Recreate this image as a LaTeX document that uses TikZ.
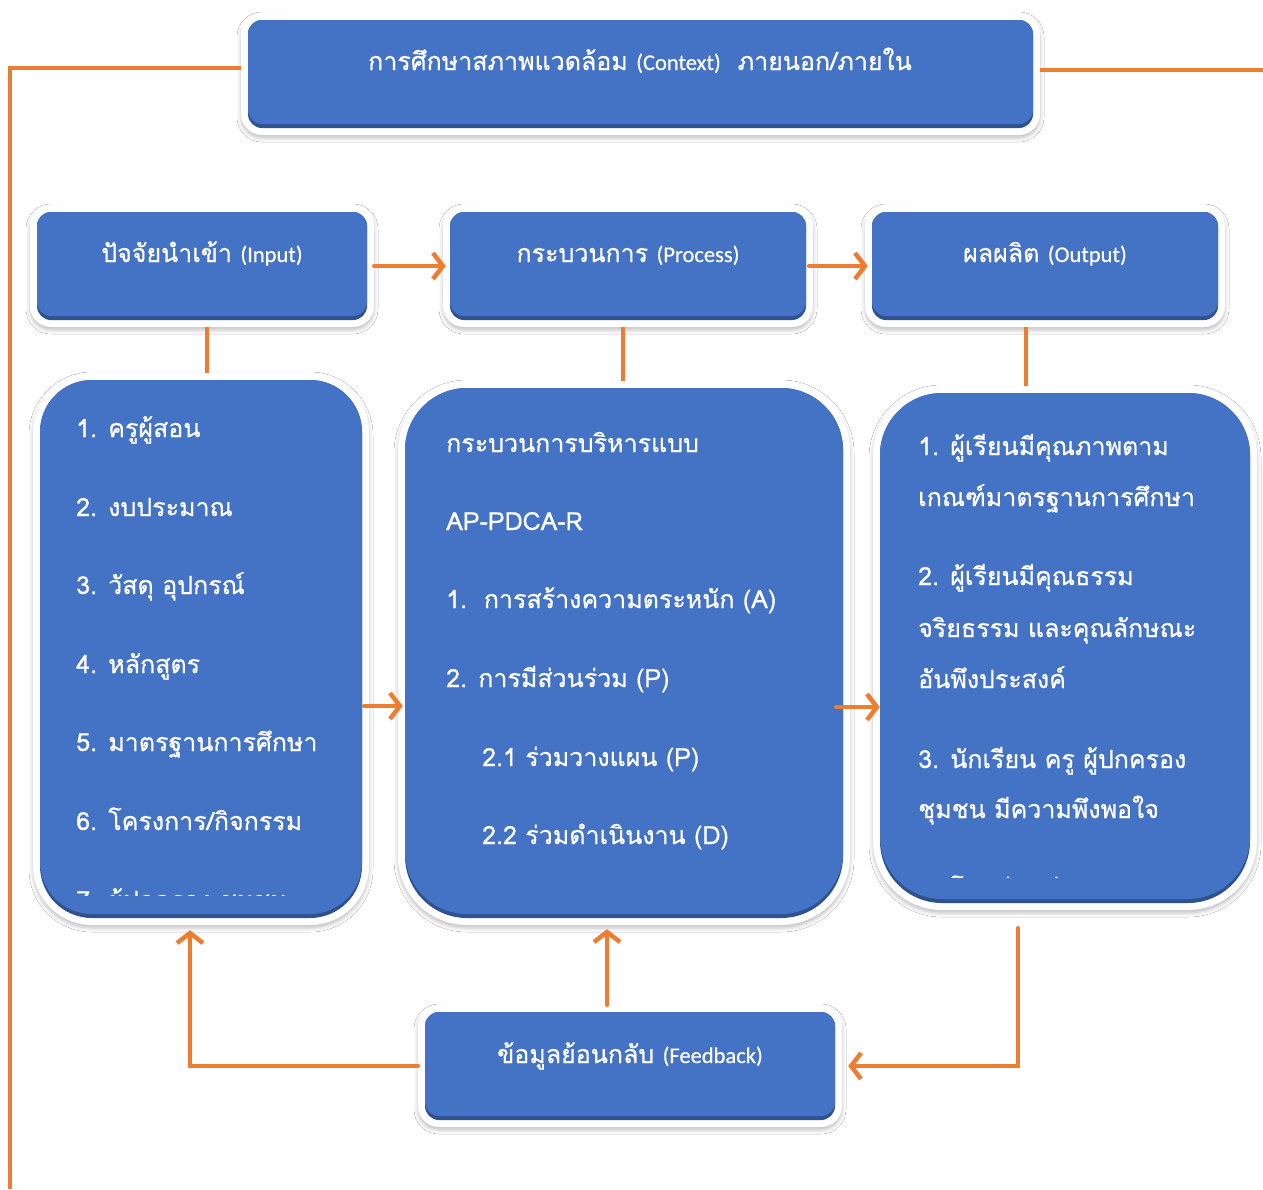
\documentclass[tikz,border=0pt]{standalone}
\usepackage{fontspec}
\newfontfamily\thai[Script=Thai,FakeBold=0.6]{Loma}
\newfontfamily\lat[FakeBold=0.4]{Carlito}
\usetikzlibrary{arrows.meta,shadows.blur,calc}
\definecolor{boxblue}{HTML}{4472C4}
\definecolor{rimblue}{HTML}{2F528F}
\definecolor{conn}{HTML}{ED7D31}
\tikzset{
  frame/.style={fill=white, draw=none, rounded corners=#1, inner sep=0pt,
    blur shadow={shadow xshift=0pt, shadow yshift=-3pt, shadow blur radius=4pt, shadow opacity=25}},
  rim/.style={fill=rimblue, draw=none, rounded corners=#1, inner sep=0pt},
  blue/.style={fill=boxblue, draw=none, rounded corners=#1, inner sep=0pt},
  txt/.style={text=white, font=\thai\fontsize{25}{29}\selectfont, inner sep=0pt, anchor=base west},
  hdr/.style={text=white, font=\thai\fontsize{25}{29}\selectfont, inner sep=0pt, anchor=base},
  ln/.style={draw=conn, line width=4.5pt},
  arr/.style={draw=conn, line width=4.5pt, -{Straight Barb[length=10pt,width=26pt]}, line cap=round},
}
\newcommand\mkbox[6]{%
  \node[frame=#6pt+7pt, minimum width=#4pt+14pt, minimum height=#5pt+14pt] (#1) at (#2,#3) {};
  \node[rim=#6pt, minimum width=#4pt, minimum height=#5pt] (#1-rim) at (#2,#3) {};
  \node[blue=#6pt, minimum width=#4pt, minimum height=#5pt-4pt] (#1-in) at (#2,#3-2) {};
}
\newcommand\hl[1]{{\lat\fontsize{22.5}{26}\selectfont #1}}
\begin{document}
\begin{tikzpicture}[x=1pt,y=-1pt]
\fill[white] (0,0) rectangle (1263,1189);
\useasboundingbox (0,0) rectangle (1263,1189);
\coordinate (lft) at (10,1189);
\coordinate (rgt) at (1263,70);

\mkbox{ctx}{640.5}{74}{785}{108}{14}
\mkbox{inp}{202}{266}{330}{108}{14}
\mkbox{proc}{628}{266}{356}{108}{14}
\mkbox{outp}{1045}{266}{346}{108}{14}
\mkbox{la}{201}{649}{322}{538}{52}
\mkbox{lb}{624}{653}{438}{530}{62}
\mkbox{lc}{1065}{648}{370}{510}{62}
\mkbox{fb}{630}{1066}{410}{108}{14}

% headers
\node[hdr] (ctx-t) at (640,70) {การศึกษาสภาพแวดล้อม \hl{(Context)}\ \ ภายนอก/ภายใน};
\node[hdr] (inp-t) at (202,262) {ปัจจัยนำเข้า \hl{(Input)}};
\node[hdr] (proc-t) at (628,262) {กระบวนการ \hl{(Process)}};
\node[hdr] (outp-t) at (1045,262) {ผลผลิต \hl{(Output)}};
\node[hdr] (fb-t) at (630,1063) {ข้อมูลย้อนกลับ \hl{(Feedback)}};

% left list
\node[txt] (la1) at (76,437) {1. ครูผู้สอน};
\node[txt] (la2) at (76,516) {2. งบประมาณ};
\node[txt] (la3) at (76,594) {3. วัสดุ อุปกรณ์};
\node[txt] (la4) at (76,673) {4. หลักสูตร};
\node[txt] (la5) at (76,751) {5. มาตรฐานการศึกษา};
\node[txt] (la6) at (76,830) {6. โครงการ/กิจกรรม};
\begin{scope}
  \clip (40,380) rectangle (362,895);
  \node[txt] (la7) at (76,909) {7. ผู้ปกครอง ชุมชน};
\end{scope}

% middle list
\node[txt] (lb1) at (446,452) {กระบวนการบริหารแบบ};
\node[txt] (lb2) at (446,530) {AP-PDCA-R};
\node[txt] (lb3) at (446,608) {1.\ \ การสร้างความตระหนัก (A)};
\node[txt] (lb4) at (446,687) {2. การมีส่วนร่วม (P)};
\node[txt] (lb5) at (482,766) {2.1 ร่วมวางแผน (P)};
\node[txt] (lb6) at (482,844) {2.2 ร่วมดำเนินงาน (D)};

% right list
\node[txt] (lc1) at (918,455) {1. ผู้เรียนมีคุณภาพตาม};
\node[txt] (lc2) at (918,506) {เกณฑ์มาตรฐานการศึกษา};
\node[txt] (lc3) at (918,585) {2. ผู้เรียนมีคุณธรรม};
\node[txt] (lc4) at (918,637) {จริยธรรม และคุณลักษณะ};
\node[txt] (lc5) at (918,688) {อันพึงประสงค์};
\node[txt] (lc6) at (918,768) {3. นักเรียน ครู ผู้ปกครอง};
\node[txt] (lc7) at (918,818) {ชุมชน มีความพึงพอใจ};
\begin{scope}
  \clip (880,393) rectangle (1250,877);
  \node[txt] (lc8) at (918,898) {4. โรงเรียนมีการพัฒนา};
\end{scope}

% connectors
\draw[ln] ([yshift=6pt]ctx.west) -| (lft);
\draw[ln] ($(ctx.east)+(0,-4)$) -- (rgt);
\draw[arr] (inp.east) -- ([xshift=3pt]proc.west);
\draw[arr] ([xshift=-4pt]proc.east) -- ([xshift=3pt]outp.west);
\draw[ln] ([xshift=5pt]inp.south) -- ($(inp.south |- la.north)+(5,0)$);
\draw[ln] ([xshift=-5pt]proc.south) -- ($(proc.south |- lb.north)+(-5,0)$);
\draw[ln] ([xshift=-19pt]outp.south) -- ($(outp.south |- lc.north)+(-19,0)$);
\draw[arr] ($(la.east)+(-5,57)$) -- ($(lb.west)+(5,53)$);
\draw[arr] ($(lb.east)+(-14,54)$) -- ($(lc.west)+(7,59)$);
\draw[arr] (fb.west) -| ($(la.south)+(-11,5)$);
\draw[arr] ($(fb.north)+(-23,0)$) -- ($(fb.north |- lb.south)+(-23,4)$);
\draw[arr] ($(lc.south)+(-47,18)$) |- ($(fb.east)+(6,0)$);
\end{tikzpicture}
\end{document}
